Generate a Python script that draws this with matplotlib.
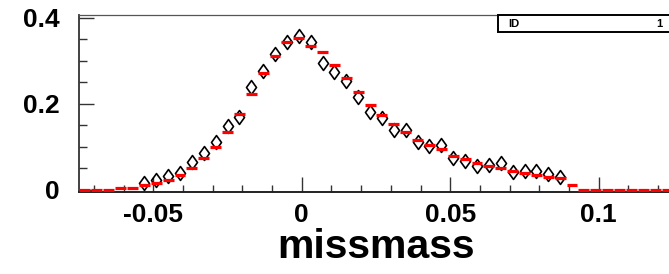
import matplotlib
matplotlib.use("Agg")
import matplotlib.pyplot as plt
from matplotlib.path import Path
from matplotlib.patches import Rectangle
import numpy as np

# ---- data -------------------------------------------------------------
bin_width = 0.004
bin_centers = [-0.073, -0.069, -0.065, -0.061, -0.057, -0.053, -0.049, -0.045,
               -0.041, -0.037, -0.033, -0.029, -0.025, -0.021, -0.017, -0.013,
               -0.009, -0.005, -0.001, 0.003, 0.007, 0.011, 0.015, 0.019,
               0.023, 0.027, 0.031, 0.035, 0.039, 0.043, 0.047, 0.051,
               0.055, 0.059, 0.063, 0.067, 0.071, 0.075, 0.079, 0.083,
               0.087, 0.091, 0.095, 0.099, 0.103, 0.107, 0.111, 0.115,
               0.119, 0.123]
red_values = [0.0, 0.0, 0.0, 0.005, 0.005, 0.012, 0.016, 0.022,
              0.035, 0.051, 0.073, 0.099, 0.135, 0.177, 0.223, 0.271,
              0.312, 0.344, 0.353, 0.335, 0.321, 0.290, 0.259, 0.228,
              0.196, 0.174, 0.153, 0.135, 0.115, 0.104, 0.095, 0.079,
              0.071, 0.063, 0.056, 0.050, 0.044, 0.039, 0.034, 0.030,
              0.027, 0.011, 0.0, 0.0, 0.0, 0.0, 0.0, 0.0,
              0.0, 0.0]
data_x = [-0.053, -0.049, -0.045, -0.041, -0.037, -0.033, -0.029, -0.025,
          -0.021, -0.017, -0.013, -0.009, -0.005, -0.001, 0.003, 0.007,
          0.011, 0.015, 0.019, 0.023, 0.027, 0.031, 0.035, 0.039,
          0.043, 0.047, 0.051, 0.055, 0.059, 0.063, 0.067, 0.071,
          0.075, 0.079, 0.083, 0.087]
data_values = [0.016, 0.022, 0.032, 0.038, 0.064, 0.086, 0.110, 0.149,
               0.169, 0.240, 0.276, 0.316, 0.344, 0.358, 0.344, 0.295,
               0.274, 0.253, 0.215, 0.181, 0.166, 0.140, 0.139, 0.112,
               0.102, 0.104, 0.074, 0.067, 0.056, 0.057, 0.061, 0.042,
               0.043, 0.044, 0.036, 0.030]
x_ticks = [-0.05, 0.0, 0.05, 0.1]
x_tick_labels = ["-0.05", "0", "0.05", "0.1"]
y_ticks = [0.0, 0.2, 0.4]
y_tick_labels = ["0", "0.2", "0.4"]
x_label = "missmass"
stat_name, stat_value = "ID", "1"

# ---- figure -----------------------------------------------------------
W, H = 669, 274
fig = plt.figure(figsize=(W / 100, H / 100), dpi=100)
fig.patch.set_facecolor("white")

left_px, right_px, top_px, bottom_px = 79, 673, 15, 192.3
ax = fig.add_axes([left_px / W, (H - bottom_px) / H,
                   (right_px - left_px) / W, (bottom_px - top_px) / H])
ax.set_xlim(-0.075, 0.125)
ax.set_ylim(-0.006, 0.4063)
ax.set_facecolor("white")

font = "Liberation Sans"

# diamonds
diamond = Path([(0, 1), (0.72, 0), (0, -1), (-0.72, 0), (0, 1)],
               [Path.MOVETO, Path.LINETO, Path.LINETO, Path.LINETO, Path.CLOSEPOLY])
ax.plot(data_x, data_values, linestyle="none", marker=diamond, markersize=10,
        markerfacecolor="none", markeredgecolor="black", markeredgewidth=1.2,
        zorder=3)

# red histogram marks
bc = np.array(bin_centers)
ax.hlines(red_values, bc - 0.46 * bin_width, bc + 0.46 * bin_width,
          colors="#ff0000", linewidth=2.3, zorder=4)

# spines
ax.spines["right"].set_visible(False)
ax.spines["left"].set_color("#333333")
ax.spines["left"].set_linewidth(1.3)
ax.spines["bottom"].set_color("#222222")
ax.spines["bottom"].set_linewidth(1.4)
ax.spines["top"].set_color("#555555")
ax.spines["top"].set_linewidth(0.9)

# ticks
ax.set_xticks(x_ticks)
ax.set_xticklabels(x_tick_labels)
ax.set_xticks(np.arange(-0.07, 0.125, 0.01), minor=True)
ax.set_yticks(y_ticks)
ax.set_yticklabels(y_tick_labels)
ax.set_yticks([0.05, 0.1, 0.15, 0.25, 0.3, 0.35], minor=True)
ax.tick_params(axis="both", which="both", direction="in", top=False, right=False,
               color="#333333", width=1.0)
ax.tick_params(axis="x", which="major", length=10.5, pad=8)
ax.tick_params(axis="x", which="minor", length=5.2)
ax.tick_params(axis="y", which="major", length=11, pad=14)
ax.tick_params(axis="y", which="minor", length=6)
for lab in ax.get_xticklabels() + ax.get_yticklabels():
    lab.set_fontfamily(font)
    lab.set_fontweight("bold")
    lab.set_fontsize(19)

# x label
fig.text(375.5 / W, 1 - 246.5 / H, x_label, ha="center", va="center",
         fontsize=29.5, fontweight="bold", family=font)

# stats box
box = Rectangle((498 / W, 1 - 32.3 / H), (690 - 498) / W, (32.3 - 15) / H,
                transform=fig.transFigure, facecolor="white", edgecolor="black",
                linewidth=1.4, zorder=10)
fig.patches.append(box)
fig.text(508 / W, 1 - 24 / H, stat_name, ha="left", va="center", fontsize=8,
         fontweight="bold", family=font, zorder=11)
fig.text(662 / W, 1 - 24 / H, stat_value, ha="right", va="center", fontsize=8,
         fontweight="bold", family=font, zorder=11)

fig.savefig("out.png", dpi=100, facecolor="white")
